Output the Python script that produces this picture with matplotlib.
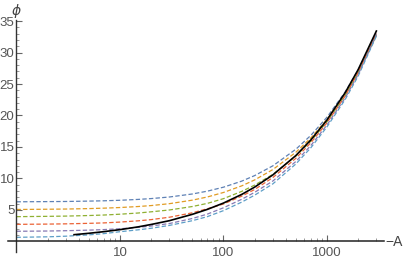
import matplotlib
matplotlib.use("Agg")
import numpy as np
import matplotlib.pyplot as plt
import matplotlib.transforms as mtransforms
from matplotlib.ticker import FixedLocator, NullFormatter

# values (phi vs -A)
A = [1, 2, 3, 5, 7, 10, 15, 20, 30, 50, 70, 100, 150, 200, 300, 500, 700, 1000, 1500, 2000, 3000]
phi_blue = [6.30, 6.33, 6.35, 6.41, 6.46, 6.54, 6.68, 6.81, 7.06, 7.54, 7.99, 8.62, 9.58, 10.46, 12.01, 14.64, 16.86, 19.73, 23.75, 27.19, 33.0]
phi_orange = [5.08, 5.12, 5.15, 5.22, 5.29, 5.39, 5.55, 5.70, 6.0, 6.56, 7.07, 7.78, 8.83, 9.77, 11.42, 14.16, 16.45, 19.38, 23.46, 26.94, 32.8]
phi_green = [3.94, 3.99, 4.03, 4.12, 4.20, 4.33, 4.52, 4.71, 5.0, 5.55, 6.05, 6.8, 7.95, 8.95, 10.65, 13.55, 15.95, 19.0, 23.2, 26.75, 32.7]
phi_red = [2.72, 2.76, 2.80, 2.88, 2.95, 3.08, 3.28, 3.47, 3.85, 4.55, 5.2, 5.95, 7.2, 8.25, 10.15, 13.2, 15.7, 18.85, 23.1, 26.8, 33.0]
phi_purple = [1.62, 1.66, 1.71, 1.80, 1.89, 2.02, 2.24, 2.45, 2.85, 3.65, 4.35, 5.35, 6.7, 7.8, 9.6, 12.7, 15.25, 18.5, 22.8, 26.5, 32.8]
phi_cyan = [0.66, 0.74, 0.84, 1.05, 1.25, 1.55, 1.85, 2.1, 2.55, 3.3, 3.95, 4.9, 6.25, 7.35, 9.15, 12.3, 14.9, 18.2, 22.55, 26.25, 32.6]

A_black = [3.6, 5, 7, 10, 15, 20, 30, 50, 70, 100, 150, 200, 300, 500, 700, 1000, 1500, 2000, 3000]
phi_black = [1.08, 1.3, 1.56, 1.88, 2.32, 2.70, 3.30, 4.31, 5.10, 6.10, 7.47, 8.63, 10.57, 13.64, 16.14, 19.29, 23.63, 27.28, 33.41]

dashed = [phi_blue, phi_orange, phi_green, phi_red, phi_purple, phi_cyan]
colors = ["#5E81B5", "#E19C24", "#8FB032", "#EB6235", "#8778B3", "#5D9EC7"]

fig = plt.figure(figsize=(4.07, 2.67), dpi=100)
ax = fig.add_axes([8/407, 15/267, 376/407, 232/267])

for ys, c in zip(dashed, colors):
    ax.plot(A, ys, color=c, lw=0.9, dashes=(3.5, 1.8))
ax.plot(A_black, phi_black, color="black", lw=1.2, zorder=5)

ax.set_xscale("log")
ax.set_xlim(0.828, 3555)
ax.set_ylim(-1.67, 35.16)

for s in ["top", "right"]:
    ax.spines[s].set_visible(False)
ax.spines["left"].set_position(("data", 1))
ax.spines["bottom"].set_position(("data", 0))
ax.spines["left"].set_color("#333333")
ax.spines["bottom"].set_color("#222222")
ax.spines["left"].set_linewidth(1.0)
ax.spines["bottom"].set_linewidth(1.1)

ax.xaxis.set_major_locator(FixedLocator([10, 100, 1000]))
minors = [m * 10 ** e for e in range(0, 4) for m in range(2, 10) if m * 10 ** e < 3555]
ax.xaxis.set_minor_locator(FixedLocator(minors))
ax.xaxis.set_minor_formatter(NullFormatter())
ax.set_xticklabels(["10", "100", "1000"])

ax.yaxis.set_major_locator(FixedLocator([5, 10, 15, 20, 25, 30, 35]))
ax.yaxis.set_minor_locator(FixedLocator([v for v in range(1, 36) if v % 5]))

ax.tick_params(which="major", direction="in", length=4, width=0.8, color="#666666",
               labelsize=9.5, labelcolor="#555555")
ax.tick_params(axis="y", which="major", pad=1.5)
ax.tick_params(axis="x", which="major", pad=4)
ax.tick_params(which="minor", direction="in", length=2, width=0.6, color="#888888")
for lab in ax.get_xticklabels() + ax.get_yticklabels():
    lab.set_family("Liberation Sans")

trans = mtransforms.blended_transform_factory(ax.transData, ax.transAxes)
ax.text(1, 1.01, "ϕ", transform=trans, fontsize=10, style="italic",
        ha="center", va="bottom", color="#444444")
fig.text(385/407, 1 - 242/267, "−A", fontsize=10, family="Liberation Sans",
         ha="left", va="center", color="#444444")

fig.savefig("out.png", dpi=100)
